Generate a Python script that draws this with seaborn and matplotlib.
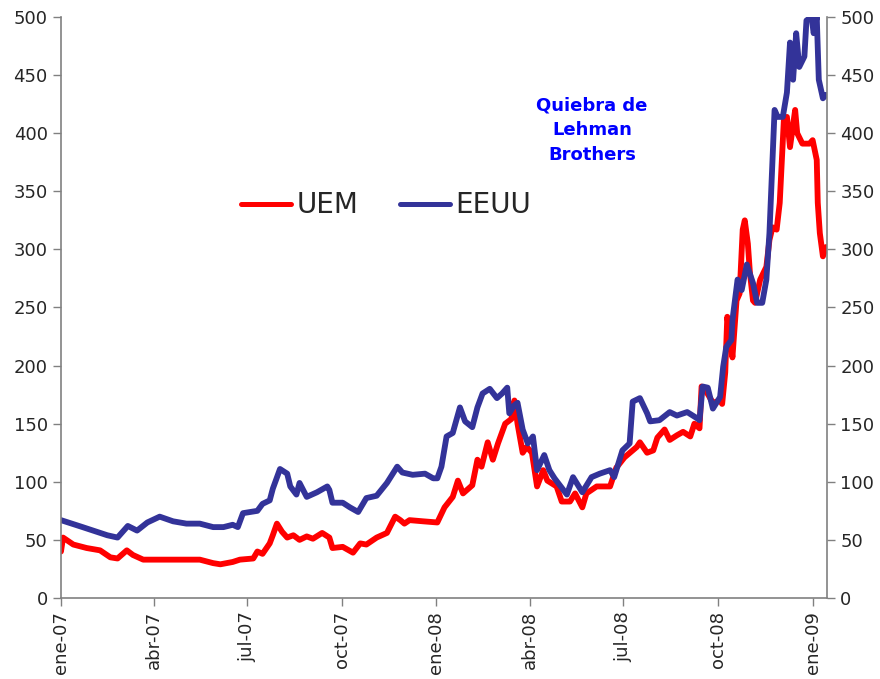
import pandas as pd
import matplotlib
matplotlib.use('Agg')
import matplotlib.pyplot as plt
import matplotlib.dates as mdates
from matplotlib.ticker import FixedLocator
import seaborn as sns

# days counted from 1 Jan 2007
uem_days = [0, 2, 12, 25, 38, 48, 55, 64, 70, 80, 93, 106, 122, 135, 148, 155, 167, 174,
            187, 191, 196, 203, 206, 210, 215, 220, 226, 232, 239, 245, 254, 261, 264, 274,
            284, 291, 297, 307, 317, 325, 330, 334, 339, 352, 366, 373, 381, 386, 391, 400,
            405, 409, 415, 420, 425, 432, 438, 441, 444, 449, 453, 458, 463, 469, 473, 482,
            487, 495, 500, 507, 511, 521, 534, 540, 548, 560, 563, 570, 576, 580, 587, 592,
            599, 605, 612, 616, 621, 623, 628, 634, 641, 643, 646, 648, 652, 653, 657, 660,
            663, 665, 668, 670, 673, 675, 680, 686, 689, 692, 696, 699, 703, 706, 709, 714,
            716, 721, 728, 731, 735, 736, 738, 741, 744]
uem_vals = [40, 52, 46, 43, 41, 35, 34, 41, 37, 33, 33, 33, 33, 33, 30, 29, 31, 33,
            34, 40, 38, 47, 54, 64, 57, 52, 54, 50, 53, 51, 56, 52, 43, 44,
            39, 47, 46, 52, 56, 70, 67, 64, 67, 66, 65, 78, 87, 101, 90, 97,
            119, 113, 134, 119, 133, 150, 154, 170, 150, 125, 130, 125, 96, 110, 101, 96,
            83, 83, 90, 78, 90, 96, 96, 112, 121, 130, 134, 125, 127, 138, 145, 136,
            140, 143, 139, 150, 146, 182, 177, 168, 170, 167, 194, 242, 216, 207, 256, 262,
            317, 325, 305, 280, 256, 254, 274, 285, 308, 319, 317, 340, 411, 414, 388, 420,
            400, 391, 391, 394, 377, 340, 314, 294, 302]

eeuu_days = [0, 21, 45, 55, 65, 74, 84, 96, 109, 122, 135, 148, 158, 167, 172, 177, 191,
             196, 203, 206, 213, 220, 223, 229, 232, 239, 249, 259, 261, 264, 274, 281, 289,
             297, 307, 317, 327, 332, 342, 354, 362, 366, 370, 375, 381, 388, 393, 400, 405,
             410, 417, 424, 429, 434, 436, 441, 444, 449, 454, 459, 463, 470, 475, 480, 492,
             498, 507, 516, 524, 534, 538, 546, 553, 556, 563, 570, 573, 582, 592, 599, 609,
             618, 621, 624, 629, 634, 641, 644, 647, 652, 653, 658, 662, 667, 673, 677, 682,
             686, 689, 694, 697, 702, 706, 709, 712, 715, 718, 723, 725, 730, 732, 735, 737,
             741, 744]
eeuu_vals = [67, 61, 54, 52, 62, 58, 65, 70, 66, 64, 64, 61, 61, 63, 61, 73, 75,
             81, 84, 94, 111, 107, 96, 89, 99, 87, 91, 96, 93, 82, 82, 78, 74,
             86, 88, 99, 113, 108, 106, 107, 103, 103, 113, 139, 142, 164, 152, 147, 164,
             176, 180, 172, 176, 181, 159, 166, 168, 145, 133, 139, 110, 123, 110, 103, 89,
             104, 91, 104, 107, 110, 104, 127, 133, 169, 172, 159, 152, 153, 160, 157, 160,
             155, 153, 182, 181, 163, 173, 199, 216, 222, 239, 274, 265, 287, 271, 254, 254,
             274, 314, 420, 414, 414, 435, 478, 446, 486, 457, 466, 497, 500, 486, 500, 446,
             430, 433]

series_names = ['UEM', 'EEUU']
series_colors = ['#FF0000', '#333399']
tick_dates = ['2007-01-01', '2007-04-01', '2007-07-01', '2007-10-01', '2008-01-01',
              '2008-04-01', '2008-07-01', '2008-10-01', '2009-01-01']
tick_labels = ['ene-07', 'abr-07', 'jul-07', 'oct-07', 'ene-08',
               'abr-08', 'jul-08', 'oct-08', 'ene-09']
y_ticks = list(range(0, 501, 50))
note = 'Quiebra de\nLehman\nBrothers'

start = pd.Timestamp('2007-01-01')


def to_frame(days, vals, name):
    return pd.DataFrame({
        'fecha': start + pd.to_timedelta(days, unit='D'),
        'valor': vals,
        'serie': name,
    })


df = pd.concat([to_frame(uem_days, uem_vals, 'UEM'),
                to_frame(eeuu_days, eeuu_vals, 'EEUU')], ignore_index=True)

sns.set_style('white')
plt.rcParams['font.family'] = ['DejaVu Sans']

fig = plt.figure(figsize=(8.8, 6.79), dpi=100)
ax = fig.add_axes([0.0693, 0.1193, 0.8705, 0.8557])

sns.lineplot(data=df, x='fecha', y='valor', hue='serie', hue_order=series_names,
             palette=series_colors, estimator=None, linewidth=4.2, ax=ax,
             legend=False)

ax.set_xlim(start, start + pd.Timedelta(days=745))
ax.set_ylim(0, 500)
ax.set_xlabel('')
ax.set_ylabel('')

ax.xaxis.set_major_locator(FixedLocator(mdates.date2num(pd.to_datetime(tick_dates))))
ax.set_xticklabels(tick_labels, rotation=90, fontsize=13)
ax.set_yticks(y_ticks)
ax.tick_params(axis='y', labelsize=13, length=6, width=1, color='#808080', direction='out', left=True)
ax.tick_params(axis='x', length=6, width=1, color='#808080', direction='out', bottom=True)

ax2 = ax.twinx()
ax2.set_ylim(0, 500)
ax2.set_yticks(y_ticks)
ax2.tick_params(axis='y', labelsize=13, length=6, width=1, color='#808080', direction='out', right=True)

for a in (ax, ax2):
    for side in ('left', 'bottom', 'right'):
        a.spines[side].set_color('#808080')
        a.spines[side].set_linewidth(1.2)
    a.spines['top'].set_visible(False)
ax2.spines['left'].set_visible(False)
ax2.spines['bottom'].set_visible(False)
ax.spines['right'].set_visible(False)

handles = [plt.Line2D([], [], color=c, linewidth=3.6, solid_capstyle='round') for c in series_colors]
ax.legend(handles, series_names, loc='center', bbox_to_anchor=(0.424, 0.676), ncol=2,
          frameon=False, fontsize=20, handlelength=1.8, handletextpad=0.2, columnspacing=1.5)

ax.text(0.693, 0.805, note, transform=ax.transAxes, ha='center', va='center',
        color='#0000FF', fontsize=13, fontweight='bold', linespacing=1.45)

fig.savefig('out.png', dpi=100)
